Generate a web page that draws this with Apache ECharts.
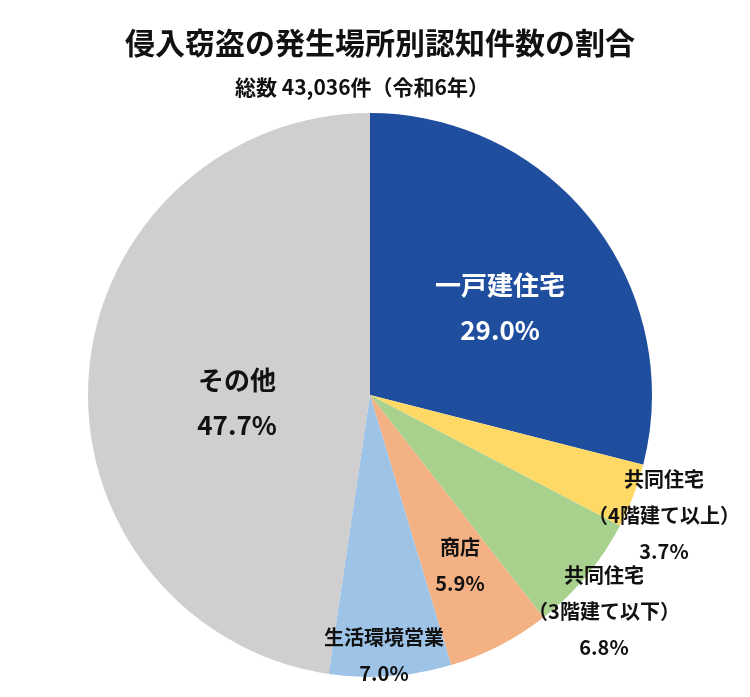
<!DOCTYPE html>
<html>
<head>
<meta charset="utf-8">
<script src="https://cdn.jsdelivr.net/npm/echarts@6/dist/echarts.min.js"></script>
<style>
html,body{margin:0;padding:0;background:#fff;}
#chart{width:750px;height:697px;}
</style>
</head>
<body>
<div id="chart"></div>
<script>
const titleText = '侵入窃盗の発生場所別認知件数の割合';
const subtitleText = '総数 43,036件（令和6年）';
const categories = ['一戸建住宅', '共同住宅\n（4階建て以上）', '共同住宅\n（3階建て以下）', '商店', '生活環境営業', 'その他'];
const shares = [29.0, 3.7, 6.8, 5.9, 7.0, 47.7];
const colors = ['#1F4E9F', '#FFD966', '#A9D18E', '#F4B183', '#9DC3E6', '#D0CECE'];
const labelColors = ['#ffffff', '#111111', '#111111', '#111111', '#111111', '#111111'];
const labelStyleKeys = ['big', 'small', 'small', 'small', 'small', 'big'];
const labelPos = [[500, 308], [664, 515], [604, 611], [460, 565], [384, 655], [237, 403]];

const FONT = '"Noto Sans CJK JP", "Noto Sans", sans-serif';
const chart = echarts.init(document.getElementById('chart'));

const data = categories.map((c, i) => ({
  name: c,
  value: shares[i],
  itemStyle: { color: colors[i] },
  label: { color: labelColors[i] }
}));

chart.setOption({
  animation: false,
  graphic: [
    { type: 'text', x: 380, y: 43, style: { text: titleText, textAlign: 'center', textVerticalAlign: 'middle', font: 'bold 30px ' + FONT, fill: '#111' } },
    { type: 'text', x: 362, y: 87, style: { text: subtitleText, textAlign: 'center', textVerticalAlign: 'middle', font: 'bold 21px ' + FONT, fill: '#111' } }
  ],
  series: [{
    type: 'pie',
    center: [370, 395],
    radius: 282,
    startAngle: 90,
    clockwise: true,
    avoidLabelOverlap: false,
    itemStyle: { borderWidth: 0 },
    labelLine: { show: false },
    emphasis: { disabled: true },
    label: {
      show: true,
      position: 'inside',
      fontFamily: FONT,
      formatter: p => {
        const k = labelStyleKeys[p.dataIndex];
        const lines = p.name.split('\n').concat([p.value.toFixed(1) + '%']);
        return lines.map(l => '{' + k + '|' + l + '}').join('\n');
      },
      rich: {
        big: { fontSize: 26, fontWeight: 'bold', lineHeight: 45, fontFamily: FONT, align: 'center' },
        small: { fontSize: 20, fontWeight: 'bold', lineHeight: 36, fontFamily: FONT, align: 'center' }
      }
    },
    labelLayout: p => ({
      x: labelPos[p.dataIndex][0],
      y: labelPos[p.dataIndex][1],
      align: 'center',
      verticalAlign: 'middle'
    }),
    data: data
  }]
});
</script>
</body>
</html>
